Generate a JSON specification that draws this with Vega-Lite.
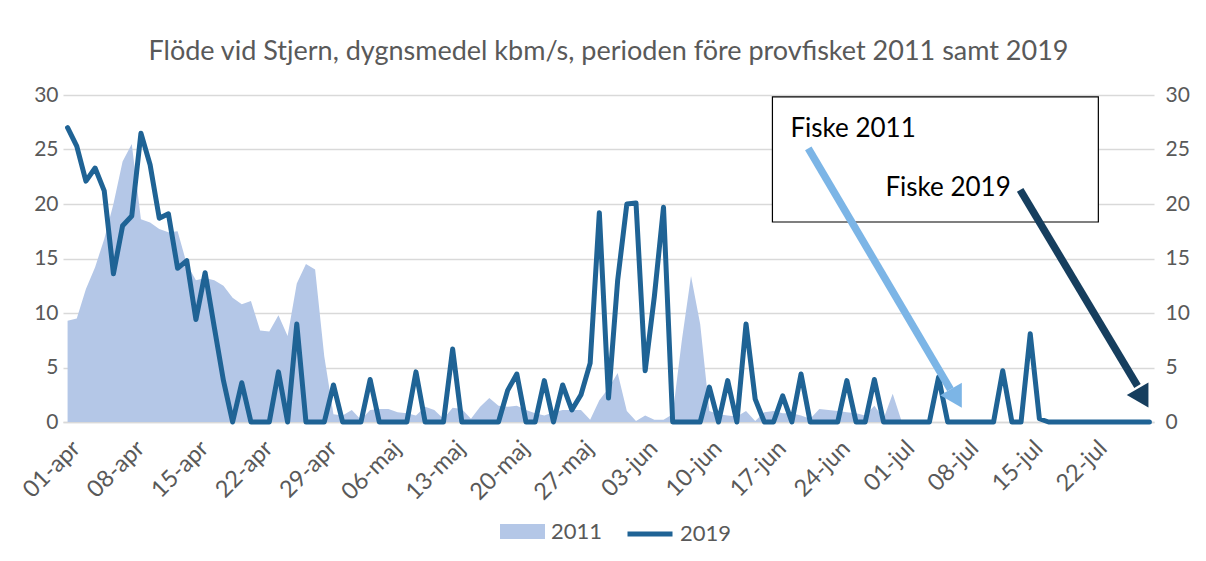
{
  "$schema": "https://vega.github.io/schema/vega-lite/v6.json",
  "width": 1091,
  "height": 327,
  "autosize": {"type": "none"},
  "padding": {"left": 63, "top": 95, "right": 52, "bottom": 139},
  "background": "white",
  "config": {"view": {"stroke": null}, "font": "Lato"},
  "title": {
    "text": "Flöde vid Stjern, dygnsmedel kbm/s,  perioden före provfisket 2011 samt 2019",
    "font": "Lato", "fontSize": 27, "fontWeight": "normal", "color": "#595959",
    "anchor": "middle", "offset": 18
  },
  "datasets": {
    "flow": [
      {"date":"2019-04-01","y2011":9.3,"y2019":27.0},
      {"date":"2019-04-02","y2011":9.5,"y2019":25.3},
      {"date":"2019-04-03","y2011":12.2,"y2019":22.1},
      {"date":"2019-04-04","y2011":14.2,"y2019":23.3},
      {"date":"2019-04-05","y2011":16.8,"y2019":21.2},
      {"date":"2019-04-06","y2011":20.0,"y2019":13.6},
      {"date":"2019-04-07","y2011":23.9,"y2019":18.0},
      {"date":"2019-04-08","y2011":25.5,"y2019":18.9},
      {"date":"2019-04-09","y2011":18.6,"y2019":26.5},
      {"date":"2019-04-10","y2011":18.3,"y2019":23.6},
      {"date":"2019-04-11","y2011":17.7,"y2019":18.7},
      {"date":"2019-04-12","y2011":17.4,"y2019":19.1},
      {"date":"2019-04-13","y2011":17.5,"y2019":14.1},
      {"date":"2019-04-14","y2011":14.5,"y2019":14.8},
      {"date":"2019-04-15","y2011":13.0,"y2019":9.4},
      {"date":"2019-04-16","y2011":13.2,"y2019":13.7},
      {"date":"2019-04-17","y2011":13.0,"y2019":8.7},
      {"date":"2019-04-18","y2011":12.5,"y2019":3.8},
      {"date":"2019-04-19","y2011":11.4,"y2019":0},
      {"date":"2019-04-20","y2011":10.8,"y2019":3.6},
      {"date":"2019-04-21","y2011":11.1,"y2019":0},
      {"date":"2019-04-22","y2011":8.4,"y2019":0},
      {"date":"2019-04-23","y2011":8.3,"y2019":0},
      {"date":"2019-04-24","y2011":9.8,"y2019":4.6},
      {"date":"2019-04-25","y2011":7.9,"y2019":0},
      {"date":"2019-04-26","y2011":12.7,"y2019":9.0},
      {"date":"2019-04-27","y2011":14.5,"y2019":0},
      {"date":"2019-04-28","y2011":14.0,"y2019":0},
      {"date":"2019-04-29","y2011":6.0,"y2019":0},
      {"date":"2019-04-30","y2011":0.7,"y2019":3.4},
      {"date":"2019-05-01","y2011":0.6,"y2019":0},
      {"date":"2019-05-02","y2011":1.1,"y2019":0},
      {"date":"2019-05-03","y2011":0.2,"y2019":0},
      {"date":"2019-05-04","y2011":1.1,"y2019":3.9},
      {"date":"2019-05-05","y2011":1.2,"y2019":0},
      {"date":"2019-05-06","y2011":1.2,"y2019":0},
      {"date":"2019-05-07","y2011":0.9,"y2019":0},
      {"date":"2019-05-08","y2011":0.8,"y2019":0},
      {"date":"2019-05-09","y2011":0.6,"y2019":4.6},
      {"date":"2019-05-10","y2011":1.4,"y2019":0},
      {"date":"2019-05-11","y2011":1.1,"y2019":0},
      {"date":"2019-05-12","y2011":0.3,"y2019":0},
      {"date":"2019-05-13","y2011":1.3,"y2019":6.7},
      {"date":"2019-05-14","y2011":1.2,"y2019":0},
      {"date":"2019-05-15","y2011":0.3,"y2019":0},
      {"date":"2019-05-16","y2011":1.4,"y2019":0},
      {"date":"2019-05-17","y2011":2.2,"y2019":0},
      {"date":"2019-05-18","y2011":1.5,"y2019":0},
      {"date":"2019-05-19","y2011":1.4,"y2019":2.9},
      {"date":"2019-05-20","y2011":1.5,"y2019":4.4},
      {"date":"2019-05-21","y2011":1.1,"y2019":0},
      {"date":"2019-05-22","y2011":0.8,"y2019":0},
      {"date":"2019-05-23","y2011":0.6,"y2019":3.8},
      {"date":"2019-05-24","y2011":0.9,"y2019":0},
      {"date":"2019-05-25","y2011":1.1,"y2019":3.4},
      {"date":"2019-05-26","y2011":1.1,"y2019":1.1},
      {"date":"2019-05-27","y2011":1.1,"y2019":2.5},
      {"date":"2019-05-28","y2011":0.2,"y2019":5.4},
      {"date":"2019-05-29","y2011":2.0,"y2019":19.2},
      {"date":"2019-05-30","y2011":3.1,"y2019":2.2},
      {"date":"2019-05-31","y2011":4.5,"y2019":13.0},
      {"date":"2019-06-01","y2011":1.0,"y2019":20.0},
      {"date":"2019-06-02","y2011":0.1,"y2019":20.1},
      {"date":"2019-06-03","y2011":0.6,"y2019":4.7},
      {"date":"2019-06-04","y2011":0.2,"y2019":11.5},
      {"date":"2019-06-05","y2011":0.2,"y2019":19.7},
      {"date":"2019-06-06","y2011":0.7,"y2019":0},
      {"date":"2019-06-07","y2011":7.5,"y2019":0},
      {"date":"2019-06-08","y2011":13.4,"y2019":0},
      {"date":"2019-06-09","y2011":9.0,"y2019":0},
      {"date":"2019-06-10","y2011":1.0,"y2019":3.2},
      {"date":"2019-06-11","y2011":0.7,"y2019":0},
      {"date":"2019-06-12","y2011":0.6,"y2019":3.8},
      {"date":"2019-06-13","y2011":0.5,"y2019":0},
      {"date":"2019-06-14","y2011":1.0,"y2019":9.0},
      {"date":"2019-06-15","y2011":0.1,"y2019":2.1},
      {"date":"2019-06-16","y2011":0.9,"y2019":0},
      {"date":"2019-06-17","y2011":1.0,"y2019":0},
      {"date":"2019-06-18","y2011":0.8,"y2019":2.4},
      {"date":"2019-06-19","y2011":0.8,"y2019":0},
      {"date":"2019-06-20","y2011":0.6,"y2019":4.4},
      {"date":"2019-06-21","y2011":0.3,"y2019":0},
      {"date":"2019-06-22","y2011":1.2,"y2019":0},
      {"date":"2019-06-23","y2011":1.1,"y2019":0},
      {"date":"2019-06-24","y2011":1.0,"y2019":0},
      {"date":"2019-06-25","y2011":0.9,"y2019":3.8},
      {"date":"2019-06-26","y2011":0.8,"y2019":0},
      {"date":"2019-06-27","y2011":0.6,"y2019":0},
      {"date":"2019-06-28","y2011":1.5,"y2019":3.9},
      {"date":"2019-06-29","y2011":0.3,"y2019":0},
      {"date":"2019-06-30","y2011":2.6,"y2019":0},
      {"date":"2019-07-01","y2011":0,"y2019":0},
      {"date":"2019-07-02","y2011":null,"y2019":0},
      {"date":"2019-07-03","y2011":null,"y2019":0},
      {"date":"2019-07-04","y2011":null,"y2019":0},
      {"date":"2019-07-05","y2011":null,"y2019":4.1},
      {"date":"2019-07-06","y2011":null,"y2019":0},
      {"date":"2019-07-07","y2011":null,"y2019":0},
      {"date":"2019-07-08","y2011":null,"y2019":0},
      {"date":"2019-07-09","y2011":null,"y2019":0},
      {"date":"2019-07-10","y2011":null,"y2019":0},
      {"date":"2019-07-11","y2011":null,"y2019":0},
      {"date":"2019-07-12","y2011":null,"y2019":4.7},
      {"date":"2019-07-13","y2011":null,"y2019":0},
      {"date":"2019-07-14","y2011":null,"y2019":0},
      {"date":"2019-07-15","y2011":null,"y2019":8.1},
      {"date":"2019-07-16","y2011":null,"y2019":0.3},
      {"date":"2019-07-17","y2011":null,"y2019":0},
      {"date":"2019-07-18","y2011":null,"y2019":0},
      {"date":"2019-07-19","y2011":null,"y2019":0},
      {"date":"2019-07-20","y2011":null,"y2019":0},
      {"date":"2019-07-21","y2011":null,"y2019":0},
      {"date":"2019-07-22","y2011":null,"y2019":0},
      {"date":"2019-07-23","y2011":null,"y2019":0},
      {"date":"2019-07-24","y2011":null,"y2019":0},
      {"date":"2019-07-25","y2011":null,"y2019":0},
      {"date":"2019-07-26","y2011":null,"y2019":0},
      {"date":"2019-07-27","y2011":null,"y2019":0},
      {"date":"2019-07-28","y2011":null,"y2019":0}
    ],
    "box": [
      {"start":"2019-06-16T21:07:00Z","end":"2019-07-22T10:19:00Z","low":18.35,"high":29.82}
    ],
    "labels": [
      {"label":"Fiske 2011","date":"2019-06-18T20:10:00Z","value":26.9},
      {"label":"Fiske 2019","date":"2019-06-29T05:00:00Z","value":21.5}
    ],
    "arrows": [
      {"name":"Fiske 2011","start":"2019-06-20T19:00:00Z","v1":25.1,"end":"2019-07-06T07:00:00Z","v2":3.0,"head":"2019-07-06T22:48:00Z","vh":2.16},
      {"name":"Fiske 2019","start":"2019-07-13T21:36:00Z","v1":21.3,"end":"2019-07-26T16:48:00Z","v2":3.3,"head":"2019-07-27T07:12:00Z","vh":2.2}
    ]
  },
  "layer": [
    {
      "data": {"name": "flow"},
      "mark": {"type": "area", "interpolate": "linear", "opacity": 1},
      "encoding": {
        "x": {
          "field": "date", "type": "temporal", "title": null,
          "scale": {"type": "utc", "domain": [
            {"year": 2019, "month": 3, "date": 31, "hours": 12, "utc": true},
            {"year": 2019, "month": 7, "date": 28, "hours": 12, "utc": true}
          ]},
          "axis": {
            "title": null,
            "values": [
              {"year":2019,"month":4,"date":1,"utc":true},
              {"year":2019,"month":4,"date":8,"utc":true},
              {"year":2019,"month":4,"date":15,"utc":true},
              {"year":2019,"month":4,"date":22,"utc":true},
              {"year":2019,"month":4,"date":29,"utc":true},
              {"year":2019,"month":5,"date":6,"utc":true},
              {"year":2019,"month":5,"date":13,"utc":true},
              {"year":2019,"month":5,"date":20,"utc":true},
              {"year":2019,"month":5,"date":27,"utc":true},
              {"year":2019,"month":6,"date":3,"utc":true},
              {"year":2019,"month":6,"date":10,"utc":true},
              {"year":2019,"month":6,"date":17,"utc":true},
              {"year":2019,"month":6,"date":24,"utc":true},
              {"year":2019,"month":7,"date":1,"utc":true},
              {"year":2019,"month":7,"date":8,"utc":true},
              {"year":2019,"month":7,"date":15,"utc":true},
              {"year":2019,"month":7,"date":22,"utc":true}
            ],
            "labelExpr": "utcFormat(datum.value, '%d') + '-' + ['jan','feb','mar','apr','maj','jun','jul','aug','sep','okt','nov','dec'][utcmonth(datum.value)]",
            "labelAngle": -45,
            "labelAlign": "right",
            "labelBaseline": "top",
            "labelFontSize": 23.5,
            "labelFont": "Lato",
            "labelColor": "#595959",
            "labelPadding": 14,
            "labelOverlap": false,
            "labelBound": false,
            "ticks": false,
            "grid": false,
            "domain": true,
            "domainColor": "#d9d9d9",
            "domainWidth": 1.3
          }
        },
        "y": {
          "field": "y2011", "type": "quantitative",
          "scale": {"domain": [0, 30], "nice": false},
          "axis": {
            "title": null, "orient": "right", "values": [0,5,10,15,20,25,30],
            "grid": false, "ticks": false, "domain": false,
            "labelFontSize": 21, "labelFont": "Lato", "labelColor": "#595959", "labelPadding": 11
          }
        },
        "fill": {
          "datum": "2011", "type": "nominal",
          "scale": {"domain": ["2011"], "range": ["#b4c7e7"]},
          "legend": {
            "orient": "none", "legendX": 437, "legendY": 414, "title": null,
            "labelFontSize": 22, "labelFont": "Lato", "labelColor": "#595959",
            "symbolType": "M-1,-0.33L1,-0.33L1,0.33L-1,0.33Z",
            "symbolSize": 2025, "symbolStrokeWidth": 0, "symbolOpacity": 1, "labelOffset": 6
          }
        }
      }
    },
    {
      "data": {"name": "flow"},
      "mark": {"type": "line", "strokeWidth": 5, "strokeJoin": "round", "strokeCap": "round", "interpolate": "linear"},
      "encoding": {
        "x": {"field": "date", "type": "temporal", "title": null},
        "y": {
          "field": "y2019", "type": "quantitative",
          "axis": {
            "title": null, "orient": "left", "values": [0,5,10,15,20,25,30],
            "grid": true, "gridColor": "#d9d9d9", "gridWidth": 1.3,
            "ticks": false, "domain": false,
            "labelFontSize": 21, "labelFont": "Lato", "labelColor": "#595959", "labelPadding": 5
          }
        },
        "stroke": {
          "datum": "2019", "type": "nominal",
          "scale": {"domain": ["2019"], "range": ["#1f6395"]},
          "legend": {
            "orient": "none", "legendX": 562, "legendY": 414, "title": null,
            "labelFontSize": 22, "labelFont": "Lato", "labelColor": "#595959",
            "symbolType": "stroke", "symbolSize": 2025, "symbolStrokeWidth": 5, "labelOffset": 5
          }
        }
      }
    },
    {
      "data": {"name": "box"},
      "mark": {"type": "rect", "fill": "white", "stroke": "black", "strokeWidth": 1.2},
      "encoding": {
        "x": {"field": "start", "type": "temporal", "title": null},
        "x2": {"field": "end"},
        "y": {"field": "low", "type": "quantitative", "axis": null},
        "y2": {"field": "high"}
      }
    },
    {
      "data": {"name": "labels"},
      "mark": {"type": "text", "align": "left", "baseline": "middle", "fontSize": 26, "font": "Lato", "color": "black"},
      "encoding": {
        "x": {"field": "date", "type": "temporal", "title": null},
        "y": {"field": "value", "type": "quantitative", "axis": null},
        "text": {"field": "label"}
      }
    },
    {
      "data": {"name": "arrows"},
      "transform": [{"filter": "datum.name === 'Fiske 2011'"}],
      "mark": {"type": "rule", "strokeWidth": 7.5, "color": "#7cb5e6"},
      "encoding": {
        "x": {"field": "start", "type": "temporal", "title": null},
        "x2": {"field": "end"},
        "y": {"field": "v1", "type": "quantitative", "axis": null},
        "y2": {"field": "v2"}
      }
    },
    {
      "data": {"name": "arrows"},
      "transform": [{"filter": "datum.name === 'Fiske 2019'"}],
      "mark": {"type": "rule", "strokeWidth": 7.5, "color": "#163e5e"},
      "encoding": {
        "x": {"field": "start", "type": "temporal", "title": null},
        "x2": {"field": "end"},
        "y": {"field": "v1", "type": "quantitative", "axis": null},
        "y2": {"field": "v2"}
      }
    },
    {
      "data": {"name": "arrows"},
      "transform": [{"filter": "datum.name === 'Fiske 2011'"}],
      "mark": {"type": "point", "shape": "triangle-up", "filled": true, "size": 625, "angle": 150, "color": "#7cb5e6", "opacity": 1},
      "encoding": {
        "x": {"field": "head", "type": "temporal", "title": null},
        "y": {"field": "vh", "type": "quantitative", "axis": null}
      }
    },
    {
      "data": {"name": "arrows"},
      "transform": [{"filter": "datum.name === 'Fiske 2019'"}],
      "mark": {"type": "point", "shape": "triangle-up", "filled": true, "size": 625, "angle": 150, "color": "#163e5e", "opacity": 1},
      "encoding": {
        "x": {"field": "head", "type": "temporal", "title": null},
        "y": {"field": "vh", "type": "quantitative", "axis": null}
      }
    }
  ],
  "resolve": {"axis": {"y": "independent"}}
}
